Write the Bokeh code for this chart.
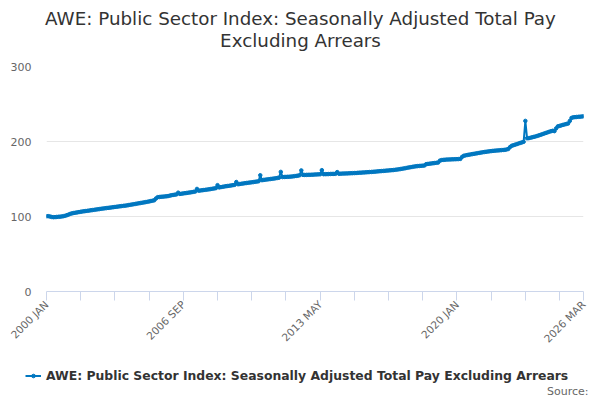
from math import pi
from bokeh.plotting import figure
from bokeh.layouts import column
from bokeh.models import FixedTicker, Legend, LegendItem, Range1d, Label
from bokeh.embed import file_html
from bokeh.resources import INLINE

# Monthly index values, 2000 JAN .. 2026 MAR
y2000 = [100.3, 100.5, 100.0, 99.4, 99.1, 99.2, 99.4, 99.6, 99.8, 100.1, 100.5, 101.0]
y2001 = [101.8, 102.7, 103.6, 104.2, 104.7, 105.1, 105.5, 105.9, 106.3, 106.7, 107.0, 107.3]
y2002 = [107.6, 107.9, 108.3, 108.6, 108.9, 109.3, 109.6, 109.9, 110.3, 110.6, 110.9, 111.2]
y2003 = [111.5, 111.8, 112.1, 112.4, 112.7, 113.0, 113.3, 113.6, 113.9, 114.2, 114.5, 114.8]
y2004 = [115.2, 115.6, 116.0, 116.4, 116.8, 117.2, 117.6, 118.0, 118.4, 118.8, 119.2, 119.6]
y2005 = [120.1, 120.6, 121.1, 121.6, 124.0, 125.8, 126.0, 126.3, 126.5, 126.7, 126.9, 127.2]
y2006 = [127.8, 128.3, 128.7, 129.1, 129.5, 131.8, 130.1, 130.4, 130.8, 131.1, 131.4, 131.8]
y2007 = [132.1, 132.5, 132.9, 133.3, 136.8, 134.4, 134.7, 135.0, 135.3, 135.6, 135.9, 136.2]
y2008 = [136.6, 137.0, 137.4, 137.8, 141.8, 138.8, 139.2, 139.6, 140.0, 140.4, 140.7, 141.0]
y2009 = [141.4, 141.8, 142.2, 146.0, 143.0, 143.3, 143.7, 144.0, 144.4, 144.7, 145.0, 145.3]
y2010 = [145.6, 145.9, 146.3, 146.6, 147.0, 155.0, 148.4, 148.8, 149.1, 149.4, 149.7, 150.0]
y2011 = [150.3, 150.6, 151.0, 151.4, 151.8, 159.5, 152.6, 152.7, 152.8, 152.9, 153.0, 153.2]
y2012 = [153.5, 153.8, 154.1, 154.5, 155.0, 161.5, 155.5, 155.4, 155.5, 155.6, 155.6, 155.7]
y2013 = [155.8, 156.0, 156.1, 156.2, 156.3, 161.8, 156.4, 156.5, 156.5, 156.6, 156.7, 156.8]
y2014 = [156.8, 156.9, 159.2, 157.0, 157.1, 157.2, 157.3, 157.4, 157.5, 157.6, 157.7, 157.8]
y2015 = [157.9, 158.0, 158.2, 158.4, 158.5, 158.7, 158.8, 159.0, 159.1, 159.3, 159.4, 159.6]
y2016 = [159.8, 160.0, 160.2, 160.4, 160.6, 160.8, 161.0, 161.2, 161.4, 161.6, 161.8, 162.0]
y2017 = [162.3, 162.6, 162.9, 163.3, 163.7, 164.1, 164.5, 165.0, 165.4, 165.8, 166.2, 166.6]
y2018 = [166.9, 167.2, 167.4, 167.6, 167.8, 168.0, 169.8, 170.1, 170.4, 170.7, 171.0, 171.3]
y2019 = [171.6, 171.9, 174.5, 175.2, 175.5, 175.7, 175.9, 176.0, 176.1, 176.2, 176.3, 176.4]
y2020 = [176.5, 176.6, 176.8, 179.5, 181.0, 181.5, 182.0, 182.4, 182.8, 183.2, 183.6, 184.0]
y2021 = [184.4, 184.8, 185.2, 185.6, 186.0, 186.3, 186.6, 186.9, 187.2, 187.5, 187.7, 187.9]
y2022 = [188.1, 188.3, 188.5, 188.7, 188.9, 189.3, 190.0, 192.5, 194.3, 195.0, 195.8, 196.5]
y2023 = [197.3, 198.1, 198.8, 199.6, 227.5, 204.3, 204.5, 205.0, 205.6, 206.2, 206.8, 207.5]
y2024 = [208.2, 209.0, 209.8, 210.6, 211.4, 212.2, 213.0, 213.7, 214.3, 213.8, 217.5, 220.2]
y2025 = [220.8, 221.5, 222.2, 222.8, 223.4, 224.0, 227.5, 231.5, 232.2, 232.5, 232.7, 232.9]
y2026 = [233.1, 233.3, 233.6]

years = [y2000, y2001, y2002, y2003, y2004, y2005, y2006, y2007, y2008, y2009,
         y2010, y2011, y2012, y2013, y2014, y2015, y2016, y2017, y2018, y2019,
         y2020, y2021, y2022, y2023, y2024, y2025, y2026]
values = [v for yr in years for v in yr]
months = list(range(len(values)))

label_positions = [0, 80, 160, 240, 314]
label_texts = ["2000 JAN", "2006 SEP", "2013 MAY", "2020 JAN", "2026 MAR"]
tick_positions = list(range(0, 301, 20)) + [314]
y_ticks = [0, 100, 200, 300]

series_name = "AWE: Public Sector Index: Seasonally Adjusted Total Pay Excluding Arrears"
title_line1 = "AWE: Public Sector Index: Seasonally Adjusted Total Pay"
title_line2 = "Excluding Arrears"
source_text = "Source:"

FONT = "DejaVu Sans"
BLUE = "#0077c0"


def blank(height):
    f = figure(width=600, height=height, output_backend="svg", toolbar_location=None,
               x_axis_location=None, y_axis_location=None, min_border=0,
               x_range=Range1d(0, 1), y_range=Range1d(0, 1))
    f.outline_line_color = None
    f.grid.grid_line_color = None
    f.frame_align = False
    return f


# ---- title strip ----
head = blank(54)
for txt, yy in [(title_line1, 36), (title_line2, 14)]:
    head.add_layout(Label(x=300, y=yy, x_units="screen", y_units="screen", text=txt,
                          text_align="center", text_baseline="middle", text_font=FONT,
                          text_font_size="18.3px", text_color="#333333"))

# ---- main chart ----
p = figure(width=600, height=297, output_backend="svg", toolbar_location=None,
           x_range=Range1d(0, 314), y_range=Range1d(0, 300),
           min_border_left=46, min_border_right=17, min_border_top=12, min_border_bottom=59)
p.outline_line_color = None
p.background_fill_color = "white"
p.frame_align = False

ln = p.line(months, values, line_color=BLUE, line_width=2)
sc = p.scatter(months, values, size=3.5, fill_color=BLUE, line_color=BLUE)

p.yaxis.ticker = FixedTicker(ticks=y_ticks)
p.yaxis.axis_line_color = None
p.yaxis.major_tick_line_color = None
p.yaxis.minor_tick_line_color = None
p.yaxis.major_label_text_font = FONT
p.yaxis.major_label_text_font_size = "11px"
p.yaxis.major_label_text_color = "#666666"
p.yaxis.major_label_standoff = 9
p.ygrid.grid_line_color = "#e6e6e6"
p.xgrid.grid_line_color = None

p.xaxis.ticker = FixedTicker(ticks=tick_positions)
overrides = {t: "" for t in tick_positions}
for pos, txt in zip(label_positions, label_texts):
    overrides[pos] = txt
p.xaxis.major_label_overrides = overrides
p.xaxis.axis_line_color = "#ccd6eb"
p.xaxis.major_tick_line_color = "#ccd6eb"
p.xaxis.major_tick_out = 9
p.xaxis.major_tick_in = 0
p.xaxis.minor_tick_line_color = None
p.xaxis.major_label_orientation = pi / 4
p.xaxis.major_label_text_font = FONT
p.xaxis.major_label_text_font_size = "10.5px"
p.xaxis.major_label_text_color = "#666666"
p.xaxis.major_label_standoff = 2

# ---- legend + source strip ----
# the series is repeated here (mapped far outside this strip's view) only so the
# legend can draw its line-and-marker swatch
foot = blank(49)
foot.x_range = Range1d(-1000, -999)
lg_line = foot.line(months, values, line_color=BLUE, line_width=2)
lg_dot = foot.scatter(months, values, size=3.5, fill_color=BLUE, line_color=BLUE)
legend = Legend(items=[LegendItem(label=series_name, renderers=[lg_line, lg_dot])],
                orientation="horizontal", location=(25, 17),
                label_text_font=FONT, label_text_font_size="12.4px",
                label_text_font_style="bold", label_text_color="#333333",
                border_line_color=None, background_fill_alpha=0,
                glyph_width=16, glyph_height=9, label_height=14,
                label_standoff=5, margin=0, padding=2, spacing=0)
foot.add_layout(legend, "center")
foot.add_layout(Label(x=588, y=9, x_units="screen", y_units="screen", text=source_text,
                      text_align="right", text_baseline="middle", text_font=FONT,
                      text_font_size="11px", text_color="#666666"))

layout = column(head, p, foot, spacing=0)
open("out.html", "w").write(file_html(layout, INLINE))
